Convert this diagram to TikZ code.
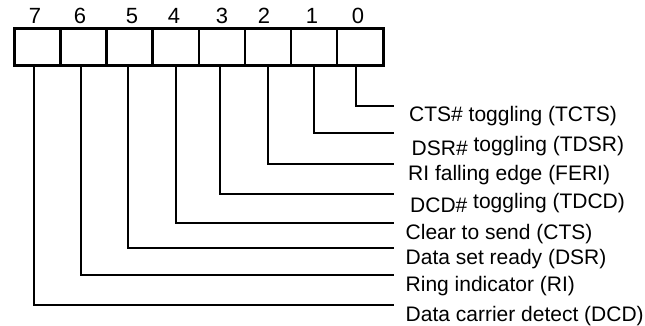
\documentclass[tikz,border=0pt]{standalone}
\usepackage{fontspec}
\setmainfont{Liberation Sans}
\begin{document}
\begin{tikzpicture}[x=1pt,y=-1pt,
  cell/.style={draw, line width=2.5pt, minimum width=46.125pt, minimum height=37pt, inner sep=0pt, anchor=north west},
  wire/.style={line width=2pt},
  lbl/.style={anchor=base west, inner sep=0pt, font=\fontsize{21}{25}\selectfont},
  bitnum/.style={anchor=base, inner sep=0pt, font=\fontsize{22}{26}\selectfont}]
\useasboundingbox (0,0) rectangle (645,325);
% register cells (bit 7 leftmost)
\foreach \b [evaluate=\b as \i using {7-\b}] in {7,6,5,4,3,2,1,0}
  \node[cell] (b\b) at ({13+46.125*\i},27) {};
% bit numbers
\node[bitnum] (n7) at (35,23.5) {7};
\node[bitnum] (n6) at (80,23.5) {6};
\node[bitnum] (n5) at (132,23.5) {5};
\node[bitnum] (n4) at (174,23.5) {4};
\node[bitnum] (n3) at (222,23.5) {3};
\node[bitnum] (n2) at (264,23.5) {2};
\node[bitnum] (n1) at (312,23.5) {1};
\node[bitnum] (n0) at (358,23.5) {0};
% connector ends
\coordinate (e0) at (394,105.5);
\coordinate (e1) at (394,132.5);
\coordinate (e2) at (394,163.5);
\coordinate (e3) at (394,193.5);
\coordinate (e4) at (394,222.7);
\coordinate (e5) at (394,247.5);
\coordinate (e6) at (394,275);
\coordinate (e7) at (394,305);
% labels
\node[lbl] (t0) at (409,121.5) {CTS\# toggling (TCTS)};
\node[lbl] (t1) at (411.5,151) {\raisebox{-4pt}{DSR\#} toggling (TDSR)};
\node[lbl] (t2) at (408,180) {RI falling edge (FERI)};
\node[lbl] (t3) at (410,208) {\raisebox{-4pt}{DCD\#} toggling (TDCD)};
\node[lbl] (t4) at (405.5,239) {Clear to send (CTS)};
\node[lbl] (t5) at (405.5,264) {Data set ready (DSR)};
\node[lbl] (t6) at (405.5,291.5) {Ring indicator (RI)};
\node[lbl] (t7) at (405.5,321.5) {Data carrier detect (DCD)};
% connectors
\draw[wire] ([xshift=-4pt]b0.south) |- (e0);
\draw[wire] (b1.south) |- (e1);
\draw[wire] (b2.south) |- (e2);
\draw[wire] ([xshift=-1.5pt]b3.south) |- (e3);
\draw[wire] ([xshift=0.5pt]b4.south) |- (e4);
\draw[wire] ([xshift=-1.3pt]b5.south) |- (e5);
\draw[wire] ([xshift=-2.2pt]b6.south) |- (e6);
\draw[wire] ([xshift=-3pt]b7.south) |- (e7);
\end{tikzpicture}
\end{document}
